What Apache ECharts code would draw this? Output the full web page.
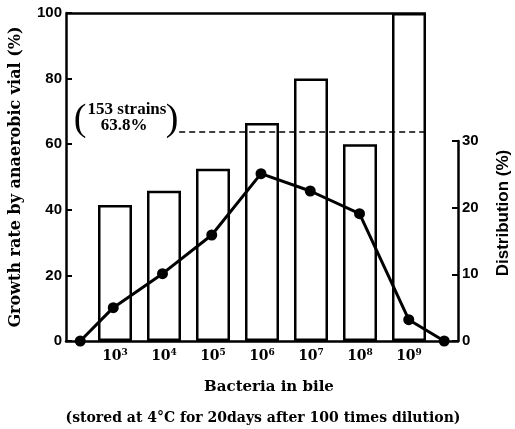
<!DOCTYPE html>
<html>
<head>
<meta charset="utf-8">
<script src="https://cdn.jsdelivr.net/npm/echarts@6/dist/echarts.min.js"></script>
<style>html,body{margin:0;padding:0;background:#fff}#c{width:515px;height:429px}</style>
</head>
<body>
<div id="c"></div>
<script>
// ---- data ----
var exponents = [3, 4, 5, 6, 7, 8, 9];                 // Bacteria in bile: 10^n
var growthRate = [41.5, 45.8, 52.5, 66.5, 80, 60, 100];  // % (left axis, bars)
var distX = [2.33, 3, 4, 5, 6, 7, 8, 9, 9.72];          // log10 position of distribution points
var distY = [0, 5.0, 10.1, 15.9, 25.1, 22.5, 19.1, 3.2, 0]; // % (right axis, line)
var overallRate = 63.8;
var strainsLabel = '153 strains';
var leftTicks = [0, 20, 40, 60, 80, 100];
var rightTicks = [0, 10, 20, 30];

var barData = exponents.map(function(e,i){ return [e, growthRate[i]]; });
var lineData = distX.map(function(x,i){ return [x, distY[i]]; });

var numFont = "'Liberation Sans Narrow','Liberation Sans',sans-serif";
var serif = "'Liberation Serif','DejaVu Serif',serif";
var dserif = "'DejaVu Serif',serif";

var chart = echarts.init(document.getElementById('c'), null, {renderer:'canvas'});
var boxRight = 9 + 17/49.25;

chart.setOption({
  animation: false,
  backgroundColor: '#fff',
  grid: [
    {left: 64, right: 57, top: 13, bottom: 88},
    {left: 64, right: 57, top: 141, bottom: 88}
  ],
  xAxis: [
    {gridIndex: 0, type: 'value', min: 2, max: 10, interval: 1,
     axisLine: {show: true, lineStyle: {color: '#000', width: 2.5}},
     axisTick: {show: false}, splitLine: {show: false},
     axisLabel: {show: true, margin: 7, color: '#000',
       formatter: function(v){ return exponents.indexOf(v) >= 0 ? '{a|10}{s|' + v + '}' : ''; },
       rich: {
         a: {fontFamily: dserif, fontWeight: 'bold', fontSize: 14, lineHeight: 16, color: '#000'},
         s: {fontFamily: dserif, fontWeight: 'bold', fontSize: 9, lineHeight: 9, verticalAlign: 'top', color: '#000'}
       }}
    },
    {gridIndex: 1, type: 'value', min: 2, max: 10, show: false}
  ],
  yAxis: [
    {gridIndex: 0, type: 'value', min: leftTicks[0], max: leftTicks[leftTicks.length-1], interval: 20,
     name: 'Growth rate by anaerobic vial (%)', nameLocation: 'middle', nameGap: 42, nameRotate: 90,
     nameTextStyle: {color: '#000', fontFamily: dserif, fontWeight: 'bold', fontSize: 16},
     axisLine: {show: true, lineStyle: {color: '#000', width: 2.5}},
     axisTick: {show: true, inside: true, length: 6, lineStyle: {color: '#000', width: 2}},
     splitLine: {show: false},
     axisLabel: {margin: 4, color: '#000', fontFamily: numFont, fontWeight: 'bold', fontSize: 15}
    },
    {gridIndex: 1, type: 'value', position: 'right', min: rightTicks[0], max: rightTicks[rightTicks.length-1], interval: 10,
     axisLine: {show: true, lineStyle: {color: '#000', width: 2.5}},
     axisTick: {show: true, inside: true, length: 6, lineStyle: {color: '#000', width: 2}},
     splitLine: {show: false},
     axisLabel: {margin: 4, color: '#000', fontFamily: numFont, fontWeight: 'bold', fontSize: 15}
    }
  ],
  series: [
    {type: 'bar', xAxisIndex: 0, yAxisIndex: 0, data: barData, barWidth: 34,
     itemStyle: {color: '#fff', borderColor: '#000', borderWidth: 2.5},
     markLine: {silent: true, symbol: ['none','none'], label: {show: false},
       data: [
         [{coord: [2, 100], lineStyle: {type: 'solid', color: '#000', width: 2.5}}, {coord: [boxRight, 100]}],
         [{coord: [4.31, overallRate], lineStyle: {type: [6, 4], color: '#000', width: 1.6}}, {coord: [boxRight, overallRate]}]
       ]}
    },
    {type: 'line', xAxisIndex: 1, yAxisIndex: 1, data: lineData, clip: false, z: 5,
     symbol: 'circle', symbolSize: 11,
     lineStyle: {color: '#000', width: 3}, itemStyle: {color: '#000'}}
  ],
  graphic: [
    {type: 'text', x: 80, y: 120, style: {text: '(', font: 'normal 38px ' + serif, fill: '#000', textAlign: 'center', textVerticalAlign: 'middle'}},
    {type: 'text', x: 172, y: 120, style: {text: ')', font: 'normal 38px ' + serif, fill: '#000', textAlign: 'center', textVerticalAlign: 'middle'}},
    {type: 'text', x: 127, y: 110, style: {text: strainsLabel, font: 'bold 17px ' + serif, fill: '#000', textAlign: 'center', textVerticalAlign: 'middle'}},
    {type: 'text', x: 124, y: 126, style: {text: overallRate.toFixed(1) + '%', font: 'bold 17px ' + serif, fill: '#000', textAlign: 'center', textVerticalAlign: 'middle'}},
    {type: 'text', x: 503, y: 213, rotation: Math.PI/2, style: {text: 'Distribution (%)', font: 'bold 17px ' + numFont, fill: '#000', textAlign: 'center', textVerticalAlign: 'middle'}},
    {type: 'text', x: 269, y: 387, style: {text: 'Bacteria in bile', font: 'bold 15px ' + dserif, fill: '#000', textAlign: 'center', textVerticalAlign: 'middle'}},
    {type: 'text', x: 263, y: 418, style: {text: '(stored at 4\u00B0C for 20days after 100 times dilution)', font: 'bold 14px ' + dserif, fill: '#000', textAlign: 'center', textVerticalAlign: 'middle'}}
  ]
});
</script>
</body>
</html>
